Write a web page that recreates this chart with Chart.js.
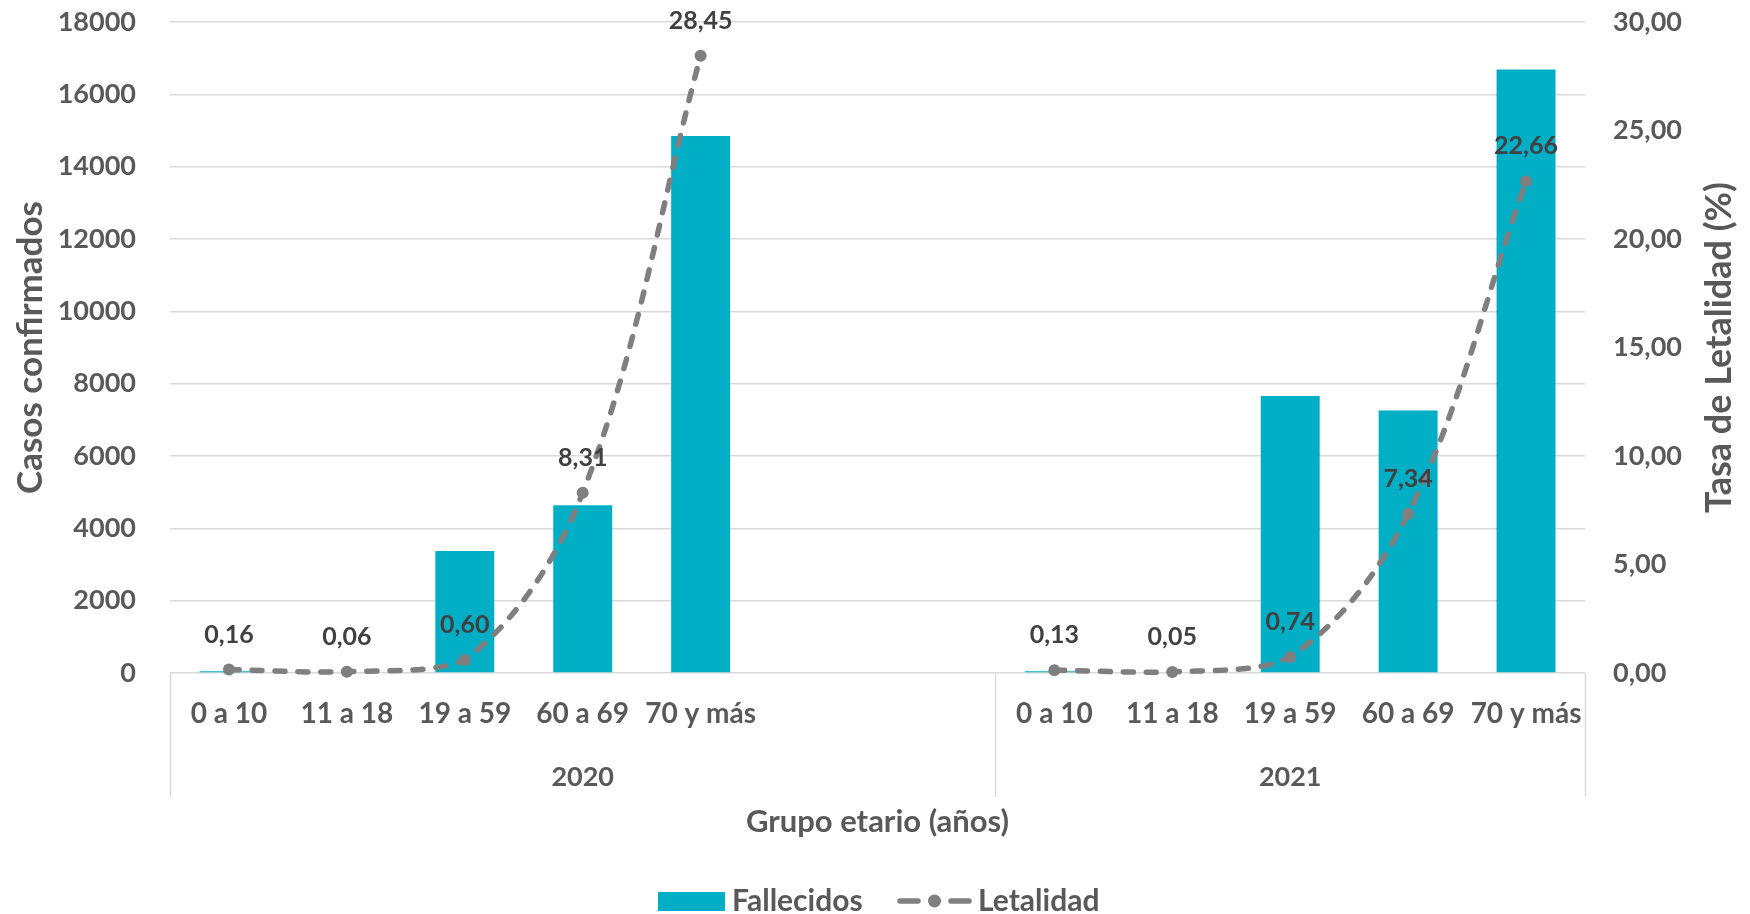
<!DOCTYPE html>
<html>
<head>
<meta charset="utf-8">
<script src="https://cdn.jsdelivr.net/npm/chart.js@4.4.0/dist/chart.umd.min.js"></script>
<style>
html,body{margin:0;padding:0;background:#ffffff;}
#wrap{width:1750px;height:914px;position:relative;}
canvas{display:block;}
</style>
</head>
<body>
<div id="wrap"><canvas id="c" width="1750" height="914"></canvas></div>
<script>
// ---- data ----
const categories = ['0 a 10','11 a 18','19 a 59','60 a 69','70 y más','','','0 a 10','11 a 18','19 a 59','60 a 69','70 y más'];
const groups = ['2020','2021'];
const groupSizes = [7,5];
const fallecidos = [50,20,3370,4640,14850,null,null,50,20,7660,7255,16690];
const letalidad = [0.16,0.06,0.60,8.31,28.45,null,null,0.13,0.05,0.74,7.34,22.66];
const seriesNames = ['Fallecidos','Letalidad'];
const leftAxis = {min:0, max:18000, step:2000};
const rightAxis = {min:0, max:30, step:5};
const titles = {left:'Casos confirmados', right:'Tasa de Letalidad (%)', x:'Grupo etario (años)'};

// ---- styles ----
const FONT = 'Lato';
const TXT = '#595959';
const BAR = '#00AEC5';
const LINE = '#7F7F7F';
const GRID = '#D9D9D9';

const extras = {
  id:'extras',
  afterDatasetsDraw(chart){
    const ctx = chart.ctx;
    const meta = chart.getDatasetMeta(1);
    ctx.save();
    ctx.font = 'bold 25px ' + FONT;
    ctx.fillStyle = '#404040';
    ctx.textAlign = 'center';
    ctx.textBaseline = 'middle';
    meta.data.forEach((pt,i)=>{
      const v = letalidad[i];
      if (v === null || v === undefined) return;
      ctx.fillText(v.toFixed(2).replace('.', ','), pt.x, pt.y - 35);
    });
    ctx.restore();
  },
  afterDraw(chart){
    const ctx = chart.ctx;
    const xs = chart.scales.x;
    const area = chart.chartArea;
    const slot = xs.getPixelForValue(1) - xs.getPixelForValue(0);
    ctx.save();
    // group separators
    const bounds = [area.left];
    let idx = 0;
    groupSizes.forEach(n=>{ idx += n; bounds.push(xs.getPixelForValue(idx-1) + slot/2); });
    ctx.strokeStyle = GRID;
    ctx.lineWidth = 1.5;
    bounds.forEach(b=>{
      ctx.beginPath();
      ctx.moveTo(Math.round(b)+0.5, area.bottom);
      ctx.lineTo(Math.round(b)+0.5, area.bottom + 124);
      ctx.stroke();
    });
    // group labels
    ctx.font = 'bold 27px ' + FONT;
    ctx.fillStyle = TXT;
    ctx.textAlign = 'center';
    ctx.textBaseline = 'middle';
    groups.forEach((g,i)=>{
      ctx.fillText(g, (bounds[i]+bounds[i+1])/2, area.bottom + 104);
    });
    // right axis title (reads bottom to top)
    ctx.save();
    ctx.translate(1719, (area.top + area.bottom)/2);
    ctx.rotate(-Math.PI/2);
    ctx.font = 'bold 36px ' + FONT;
    ctx.fillStyle = TXT;
    ctx.fillText(titles.right, 0, 0);
    ctx.restore();
    // legend
    const ly = 901;
    ctx.fillStyle = BAR;
    ctx.fillRect(658, ly - 9, 67, 19);
    ctx.font = 'bold 30px ' + FONT;
    ctx.fillStyle = TXT;
    ctx.textAlign = 'left';
    ctx.fillText(seriesNames[0], 732, ly);
    ctx.strokeStyle = LINE;
    ctx.lineWidth = 5.5;
    ctx.lineCap = 'round';
    ctx.beginPath(); ctx.moveTo(900, ly); ctx.lineTo(918, ly); ctx.stroke();
    ctx.beginPath(); ctx.moveTo(951, ly); ctx.lineTo(969, ly); ctx.stroke();
    ctx.fillStyle = LINE;
    ctx.beginPath(); ctx.arc(934.5, ly, 6.5, 0, Math.PI*2); ctx.fill();
    ctx.fillStyle = TXT;
    ctx.fillText(seriesNames[1], 978, ly);
    ctx.restore();
  }
};

new Chart(document.getElementById('c'), {
  data: {
    labels: categories,
    datasets: [
      {
        type:'bar', label: seriesNames[0], data: fallecidos, yAxisID:'y',
        backgroundColor: BAR, borderWidth: 0,
        barPercentage: 0.5, categoryPercentage: 1.0, order: 2
      },
      {
        type:'line', label: seriesNames[1], data: letalidad, yAxisID:'y1',
        borderColor: LINE, backgroundColor: LINE, borderWidth: 5.5,
        borderDash: [10,13], borderCapStyle: 'round',
        pointRadius: 6, pointBackgroundColor: LINE, pointBorderWidth: 0,
        tension: 0.35, spanGaps: false, clip: false, order: 1
      }
    ]
  },
  options: {
    responsive: false,
    devicePixelRatio: 1,
    animation: false,
    layout: { padding: {top: 22, left: 0, right: 0, bottom: 0} },
    plugins: { legend: {display:false}, tooltip: {enabled:false} },
    scales: {
      x: {
        type:'category', offset: true,
        grid: {display:false, drawTicks:false},
        border: {display:false},
        ticks: {
          color: TXT, font: {family: FONT, size: 28, weight: 'bold'},
          padding: 24, maxRotation: 0, autoSkip: false
        },
        title: {
          display: true, text: titles.x, color: TXT,
          font: {family: FONT, size: 31, weight: 'bold'},
          padding: {top: 0, bottom: 73}
        },
        afterFit: s => { s.height = 241; }
      },
      y: {
        position:'left', min: leftAxis.min, max: leftAxis.max,
        grid: {color: GRID, lineWidth: 1.5, drawTicks: true, tickLength: 31, tickColor: 'rgba(0,0,0,0)'},
        border: {display:false},
        ticks: {
          stepSize: leftAxis.step, color: TXT, padding: 3,
          font: {family: FONT, size: 27, weight: 'bold'},
          callback: v => String(v)
        },
        title: {
          display: true, text: titles.left, color: TXT,
          font: {family: FONT, size: 35, weight: 'bold'},
          padding: {top: 10, bottom: 0}
        },
        afterFit: s => { s.width = 170; }
      },
      y1: {
        position:'right', min: rightAxis.min, max: rightAxis.max,
        grid: {display:true, drawOnChartArea:false, color:'rgba(0,0,0,0)', drawTicks:true, tickLength: 25, tickColor:'rgba(0,0,0,0)'},
        border: {display:false},
        ticks: {
          stepSize: rightAxis.step, color: TXT, padding: 3,
          font: {family: FONT, size: 27, weight: 'bold'},
          callback: v => v.toFixed(2).replace('.', ',')
        },
        afterFit: s => { s.width = 165; }
      }
    }
  },
  plugins: [extras]
});
</script>
</body>
</html>
